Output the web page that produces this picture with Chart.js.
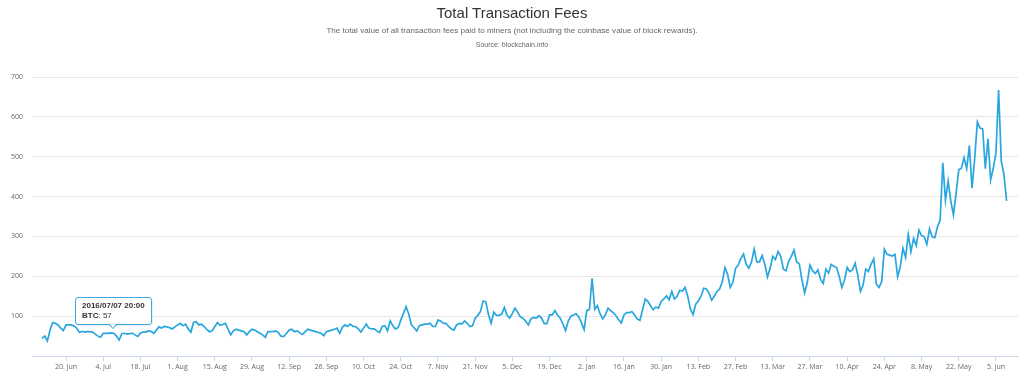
<!DOCTYPE html>
<html>
<head>
<meta charset="utf-8">
<script src="https://cdn.jsdelivr.net/npm/chart.js@4.4.1/dist/chart.umd.min.js"></script>
<style>
  html, body { margin: 0; padding: 0; background: #fff; }
  #wrap { position: relative; width: 1024px; height: 378px; overflow: hidden; }
  #chart { position: absolute; left: 0; top: 0; }
  .hdr { position: absolute; left: 0; width: 1024px; text-align: center; font-family: "Liberation Sans", Arial, sans-serif; white-space: nowrap; }
  #title { top: 5px; font-size: 15px; line-height: 16px; color: #333; }
  #subtitle { top: 26px; font-size: 8.1px; line-height: 10px; color: #666; }
  #source { top: 40px; font-size: 7px; line-height: 9px; color: #666; }
  #tt { position: absolute; background: rgba(255,255,255,0.97); border: 1px solid #3fa9dc; border-radius: 3px;
        padding: 3px 6px 3px 6px; font-family: "Liberation Sans", Arial, sans-serif; font-size: 8px; line-height: 10px;
        color: #333; white-space: nowrap; box-shadow: 1px 1px 1px rgba(0,0,0,0.08); display: none; }
  #tt:after, #tt:before { content: ""; position: absolute; left: 50%; border-style: solid; border-color: transparent; }
  #tt:before { top: 100%; margin-left: -5px; border-width: 5px 5px 0 5px; border-top-color: #3fa9dc; }
  #tt:after { top: 100%; margin-left: -4px; margin-top: -1px; border-width: 5px 4px 0 4px; border-top-color: #fff; }
</style>
</head>
<body>
<div id="wrap">
  <canvas id="chart" width="1024" height="378"></canvas>
  <div class="hdr" id="title">Total Transaction Fees</div>
  <div class="hdr" id="subtitle">The total value of all transaction fees paid to miners (not including the coinbase value of block rewards).</div>
  <div class="hdr" id="source">Source: blockchain.info</div>
  <div id="tt"></div>
</div>
<script>
// First data point: 2016-06-11 (UTC), one value per day
const startDateUTC = [2016, 5, 11];
const fees = [
  44,50,38,65,84,82,78,70,64,78,
  78,78,75,70,59,62,60,61,61,60,
  55,50,47,57,57,57,58,57,50,40,
  56,57,55,56,57,53,49,57,60,60,
  63,62,57,65,73,70,74,73,71,68,
  73,78,82,76,80,68,60,84,
  86,78,80,74,67,61,63,74,84,77,
  79,82,67,53,63,67,65,63,61,53,
  61,67,65,61,57,53,47,61,61,61,
  63,58,49,49,57,65,67,61,63,58,
  54,61,67,65,63,61,59,57,51,61,
  63,65,67,70,57,72,78,74,80,74,
  74,68,60,70,80,70,68,68,63,59,
  74,76,63,88,76,68,71,90,107,124,
  105,78,71,63,76,78,80,80,82,74,
  74,90,88,82,82,74,68,65,78,82,
  80,88,82,74,76,95,102,112,138,136,
  104,82,110,102,102,105,122,102,95,107,
  120,110,
  98,95,87,78,93,97,95,101,95,81,
  81,103,103,114,103,95,81,64,87,100,
  103,106,98,83,66,114,117,195,117,126,
  106,93,103,120,114,108,101,91,83,103,
  109,109,111,103,93,89,116,143,137,126,
  116,123,120,137,143,151,141,162,
  143,150,165,
  163,172,150,118,104,130,138,150,170,168,
  158,140,150,162,168,186,222,205,172,185,
  220,228,245,256,230,220,236,268,236,236,
  252,230,198,220,250,242,262,250,218,214,
  238,250,266,236,231,190,158,185,228,214,
  207,216,192,182,218,208,230,225,222,200,
  172,190,222,212,216,233,203,162,178,218,
  212,230,244,180,172,187,268,255,253,251,
  255,199,224,270,247,305,262,295,277,316,
  302,299,280,319,299,297,324,341,485,391,
  439,389,354,408,467,471,498,470,528,421,
  496,587,572,570,470,545,442,471,509,667,
  489,456,389
];
const tickLabels = ['20. Jun','4. Jul','18. Jul','1. Aug','15. Aug','29. Aug','12. Sep','26. Sep','10. Oct','24. Oct',
  '7. Nov','21. Nov','5. Dec','19. Dec','2. Jan','16. Jan','30. Jan','13. Feb','27. Feb','13. Mar','27. Mar',
  '10. Apr','24. Apr','8. May','22. May','5. Jun'];
const tickDayIndex = [9,23,37,51,65,79,93,107,121,135,149,163,177,191,205,219,233,247,261,275,289,303,317,331,345,359];
const yTicks = [0,100,200,300,400,500,600,700];
const seriesName = 'BTC';
const tooltipIndex = 27;

function pad(n){ return (n < 10 ? '0' : '') + n; }
function labelFor(i){
  // timestamps shown in local time (UTC-4)
  const d = new Date(Date.UTC(startDateUTC[0], startDateUTC[1], startDateUTC[2]) + i*86400000 - 4*3600000);
  return d.getUTCFullYear() + '/' + pad(d.getUTCMonth()+1) + '/' + pad(d.getUTCDate()) + ' ' + pad(d.getUTCHours()) + ':' + pad(d.getUTCMinutes());
}

const points = fees.map((v, i) => ({x: i, y: v}));

function externalTooltip(context){
  const tt = document.getElementById('tt');
  const tooltip = context.tooltip;
  if (!tooltip || tooltip.opacity === 0 || !tooltip.dataPoints || !tooltip.dataPoints.length) { tt.style.display = 'none'; return; }
  const dp = tooltip.dataPoints[0];
  tt.innerHTML = '<b>' + labelFor(dp.dataIndex) + '</b><br><b>' + seriesName + '</b>: ' + dp.parsed.y;
  tt.style.display = 'block';
  const w = tt.offsetWidth, h = tt.offsetHeight;
  tt.style.left = Math.round(tooltip.caretX - w/2) + 'px';
  tt.style.top = Math.round(tooltip.caretY - h - 8) + 'px';
}

const chart = new Chart(document.getElementById('chart'), {
  type: 'line',
  data: { datasets: [{
    label: seriesName,
    data: points,
    borderColor: '#28a6de',
    borderWidth: 1.7,
    pointRadius: 0,
    pointHoverRadius: 0,
    tension: 0,
    fill: false
  }]},
  options: {
    responsive: false,
    animation: false,
    events: [],
    layout: { padding: { top: 77, right: 6, left: 0, bottom: 0 } },
    plugins: {
      legend: { display: false },
      title: { display: false },
      tooltip: { enabled: false, mode: 'nearest', intersect: false, external: externalTooltip }
    },
    scales: {
      x: {
        type: 'linear',
        min: -3.8,
        max: 367.3,
        afterBuildTicks: (s) => { s.ticks = tickDayIndex.map(v => ({value: v})); },
        afterFit: (s) => { s.height = 22; },
        ticks: {
          autoSkip: false, maxRotation: 0, padding: 2,
          color: '#666', font: { family: '"Open Sans", "Liberation Sans", sans-serif', size: 7 },
          callback: (v, idx) => tickLabels[idx]
        },
        grid: { drawOnChartArea: false, drawTicks: true, tickLength: 5, color: '#ccd6eb' },
        border: { display: true, color: '#ccd6eb', width: 1 }
      },
      y: {
        min: 0, max: 700,
        afterBuildTicks: (s) => { s.ticks = yTicks.map(v => ({value: v})); },
        afterFit: (s) => { s.width = 32; },
        ticks: {
          padding: 9, color: '#666', font: { family: '"Open Sans", "Liberation Sans", sans-serif', size: 7 },
          callback: (v) => v === 0 ? '' : String(v)
        },
        grid: { drawTicks: false, color: (c) => (c.tick && c.tick.value === 0) ? 'rgba(0,0,0,0)' : '#e6e6e6', lineWidth: 1 },
        border: { display: false }
      }
    }
  }
});

const meta = chart.getDatasetMeta(0);
const el = meta.data[tooltipIndex];
chart.tooltip.setActiveElements([{datasetIndex: 0, index: tooltipIndex}], {x: el.x, y: el.y});
chart.update();
</script>
</body>
</html>
